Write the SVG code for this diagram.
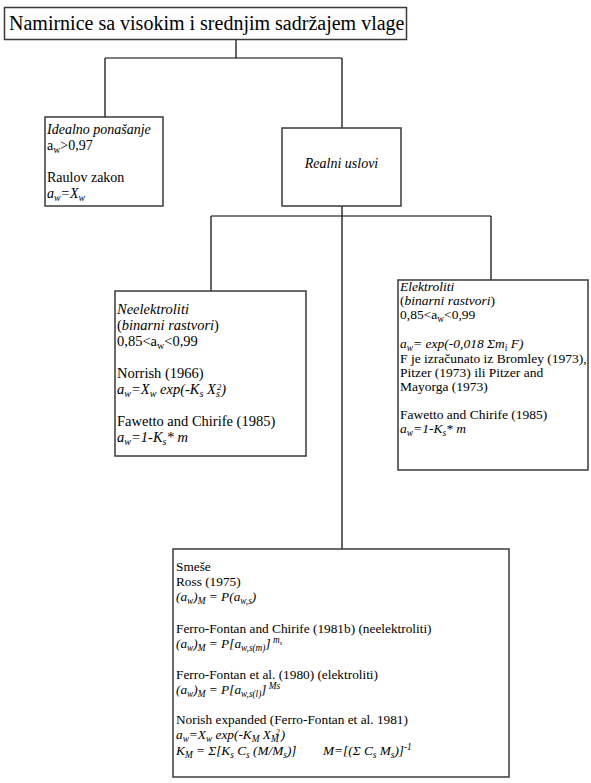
<svg xmlns="http://www.w3.org/2000/svg" width="591" height="783" viewBox="0 0 591 783">
<style>
.box{fill:#fff;stroke:#3a3a3a;stroke-width:1.5}
.con{fill:none;stroke:#000;stroke-width:1.2}
text{font-family:"Liberation Serif","Times New Roman",serif;fill:#000}
.t14{font-size:14px}
.t145{font-size:14.5px}
.t13{font-size:13.5px}
.t133{font-size:13.3px}
.i{font-style:italic}
.s{font-size:70%}
.ss{font-size:60%}
</style>
<rect width="591" height="783" fill="#fff"/>
<g id="connectors">
<path class="con" d="M236,40V58M105,58H342M105,58V117M342,58V128"/>
<path class="con" d="M342,206V549M211,216H491M211,216V291M491,216V280"/>
</g>
<g id="title">
<rect class="box" x="4.5" y="7.5" width="402" height="32"/>
<text x="9" y="30" font-size="20">Namirnice sa visokim i srednjim sadržajem vlage</text>
</g>
<g id="idealno">
<rect class="box" x="45" y="117" width="118" height="89"/>
<text class="t14 i" x="47" y="134">Idealno ponašanje</text>
<text class="t14" x="47" y="150">a<tspan class="s" dy="3">w</tspan><tspan dy="-3">&gt;0,97</tspan></text>
<text class="t14" x="47" y="182">Raulov zakon</text>
<text class="t14 i" x="47" y="198">a<tspan class="s" dy="3">w</tspan><tspan dy="-3">=X</tspan><tspan class="s" dy="3">w</tspan></text>
</g>
<g id="realni">
<rect class="box" x="282" y="128" width="119" height="78"/>
<text class="t14 i" x="341.5" y="168" text-anchor="middle">Realni uslovi</text>
</g>
<g id="neelektroliti">
<rect class="box" x="115" y="291" width="191" height="165"/>
<text class="t145 i" x="117" y="314">Neelektroliti</text>
<text class="t145" x="117" y="330">(<tspan class="i">binarni rastvori</tspan>)</text>
<text class="t145" x="117" y="346">0,85&lt;a<tspan class="s" dy="3">w</tspan><tspan dy="-3">&lt;0,99</tspan></text>
<text class="t145" x="117" y="378">Norrish (1966)</text>
<text class="t145 i" x="117" y="394">a<tspan class="s" dy="3">w</tspan><tspan dy="-3">=X</tspan><tspan class="s" dy="3">w</tspan><tspan dy="-3"> exp(-K</tspan><tspan class="s" dy="3">s</tspan><tspan dy="-3"> X</tspan><tspan class="s" dy="3">s</tspan><tspan class="ss" dx="-3" dy="-7.5">2</tspan><tspan dy="4.5">)</tspan></text>
<text class="t145" x="117" y="426">Fawetto and Chirife (1985)</text>
<text class="t145 i" x="117" y="442">a<tspan class="s" dy="3">w</tspan><tspan dy="-3">=1-K</tspan><tspan class="s" dy="3">s</tspan><tspan dy="-3">* m</tspan></text>
</g>
<g id="elektroliti">
<rect class="box" x="398" y="280" width="190" height="190"/>
<text class="t13 i" x="400" y="291">Elektroliti</text>
<text class="t13" x="400" y="305">(<tspan class="i">binarni rastvori</tspan>)</text>
<text class="t13" x="400" y="319">0,85&lt;a<tspan class="s" dy="2.5">w</tspan><tspan dy="-2.5">&lt;0,99</tspan></text>
<text class="t13 i" x="400" y="348">a<tspan class="s" dy="2.5">w</tspan><tspan dy="-2.5">= exp(-0,018 Σm</tspan><tspan class="s" dy="2.5">i</tspan><tspan dy="-2.5"> F)</tspan></text>
<text class="t13" x="400" y="363">F je izračunato iz Bromley (1973),</text>
<text class="t13" x="400" y="377">Pitzer (1973) ili Pitzer and</text>
<text class="t13" x="400" y="391">Mayorga (1973)</text>
<text class="t13" x="400" y="419">Fawetto and Chirife (1985)</text>
<text class="t13 i" x="400" y="433">a<tspan class="s" dy="2.5">w</tspan><tspan dy="-2.5">=1-K</tspan><tspan class="s" dy="2.5">s</tspan><tspan dy="-2.5">* m</tspan></text>
</g>
<g id="smese">
<rect class="box" x="173" y="549" width="336" height="228"/>
<text class="t133" x="176" y="571">Smeše</text>
<text class="t133" x="176" y="586">Ross (1975)</text>
<text class="t133 i" x="176" y="601">(a<tspan class="s" dy="3">w</tspan><tspan dy="-3">)</tspan><tspan class="s" dy="3">M</tspan><tspan dy="-3"> = P(a</tspan><tspan class="s" dy="3">w,s</tspan><tspan dy="-3">)</tspan></text>
<text class="t133" x="176" y="633">Ferro-Fontan and Chirife (1981b) (neelektroliti)</text>
<text class="t133 i" x="176" y="648">(a<tspan class="s" dy="3">w</tspan><tspan dy="-3">)</tspan><tspan class="s" dy="3">M</tspan><tspan dy="-3"> = P[a</tspan><tspan class="s" dy="3">w,s(m)</tspan><tspan dy="-3">]</tspan><tspan class="s" dy="-5"> m</tspan><tspan font-size="6" dy="2">s</tspan></text>
<text class="t133" x="176" y="679">Ferro-Fontan et al. (1980) (elektroliti)</text>
<text class="t133 i" x="176" y="694">(a<tspan class="s" dy="3">w</tspan><tspan dy="-3">)</tspan><tspan class="s" dy="3">M</tspan><tspan dy="-3"> = P[a</tspan><tspan class="s" dy="3">w,s(l)</tspan><tspan dy="-3">]</tspan><tspan class="s" dy="-5"> Ms</tspan></text>
<text class="t133" x="176" y="724">Norish expanded (Ferro-Fontan et al. 1981)</text>
<text class="t133 i" x="176" y="739">a<tspan class="s" dy="3">w</tspan><tspan dy="-3">=X</tspan><tspan class="s" dy="3">w</tspan><tspan dy="-3"> exp(-K</tspan><tspan class="s" dy="3">M</tspan><tspan dy="-3"> X</tspan><tspan class="s" dy="3">M</tspan><tspan class="ss" dx="-3" dy="-7">2</tspan><tspan dx="1" dy="4">)</tspan></text>
<text class="t133 i" x="176" y="755">K<tspan class="s" dy="2.5">M</tspan><tspan dy="-2.5"> = Σ[K</tspan><tspan class="s" dy="2.5">s</tspan><tspan dy="-2.5"> C</tspan><tspan class="s" dy="2.5">s</tspan><tspan dy="-2.5"> (M/M</tspan><tspan class="s" dy="2.5">s</tspan><tspan dy="-2.5">)]</tspan><tspan x="323">M=[(Σ C</tspan><tspan class="s" dy="2.5">s</tspan><tspan dy="-2.5"> M</tspan><tspan class="s" dy="2.5">s</tspan><tspan dy="-2.5">)]</tspan><tspan class="s" dy="-5">-1</tspan></text>
</g>
</svg>
